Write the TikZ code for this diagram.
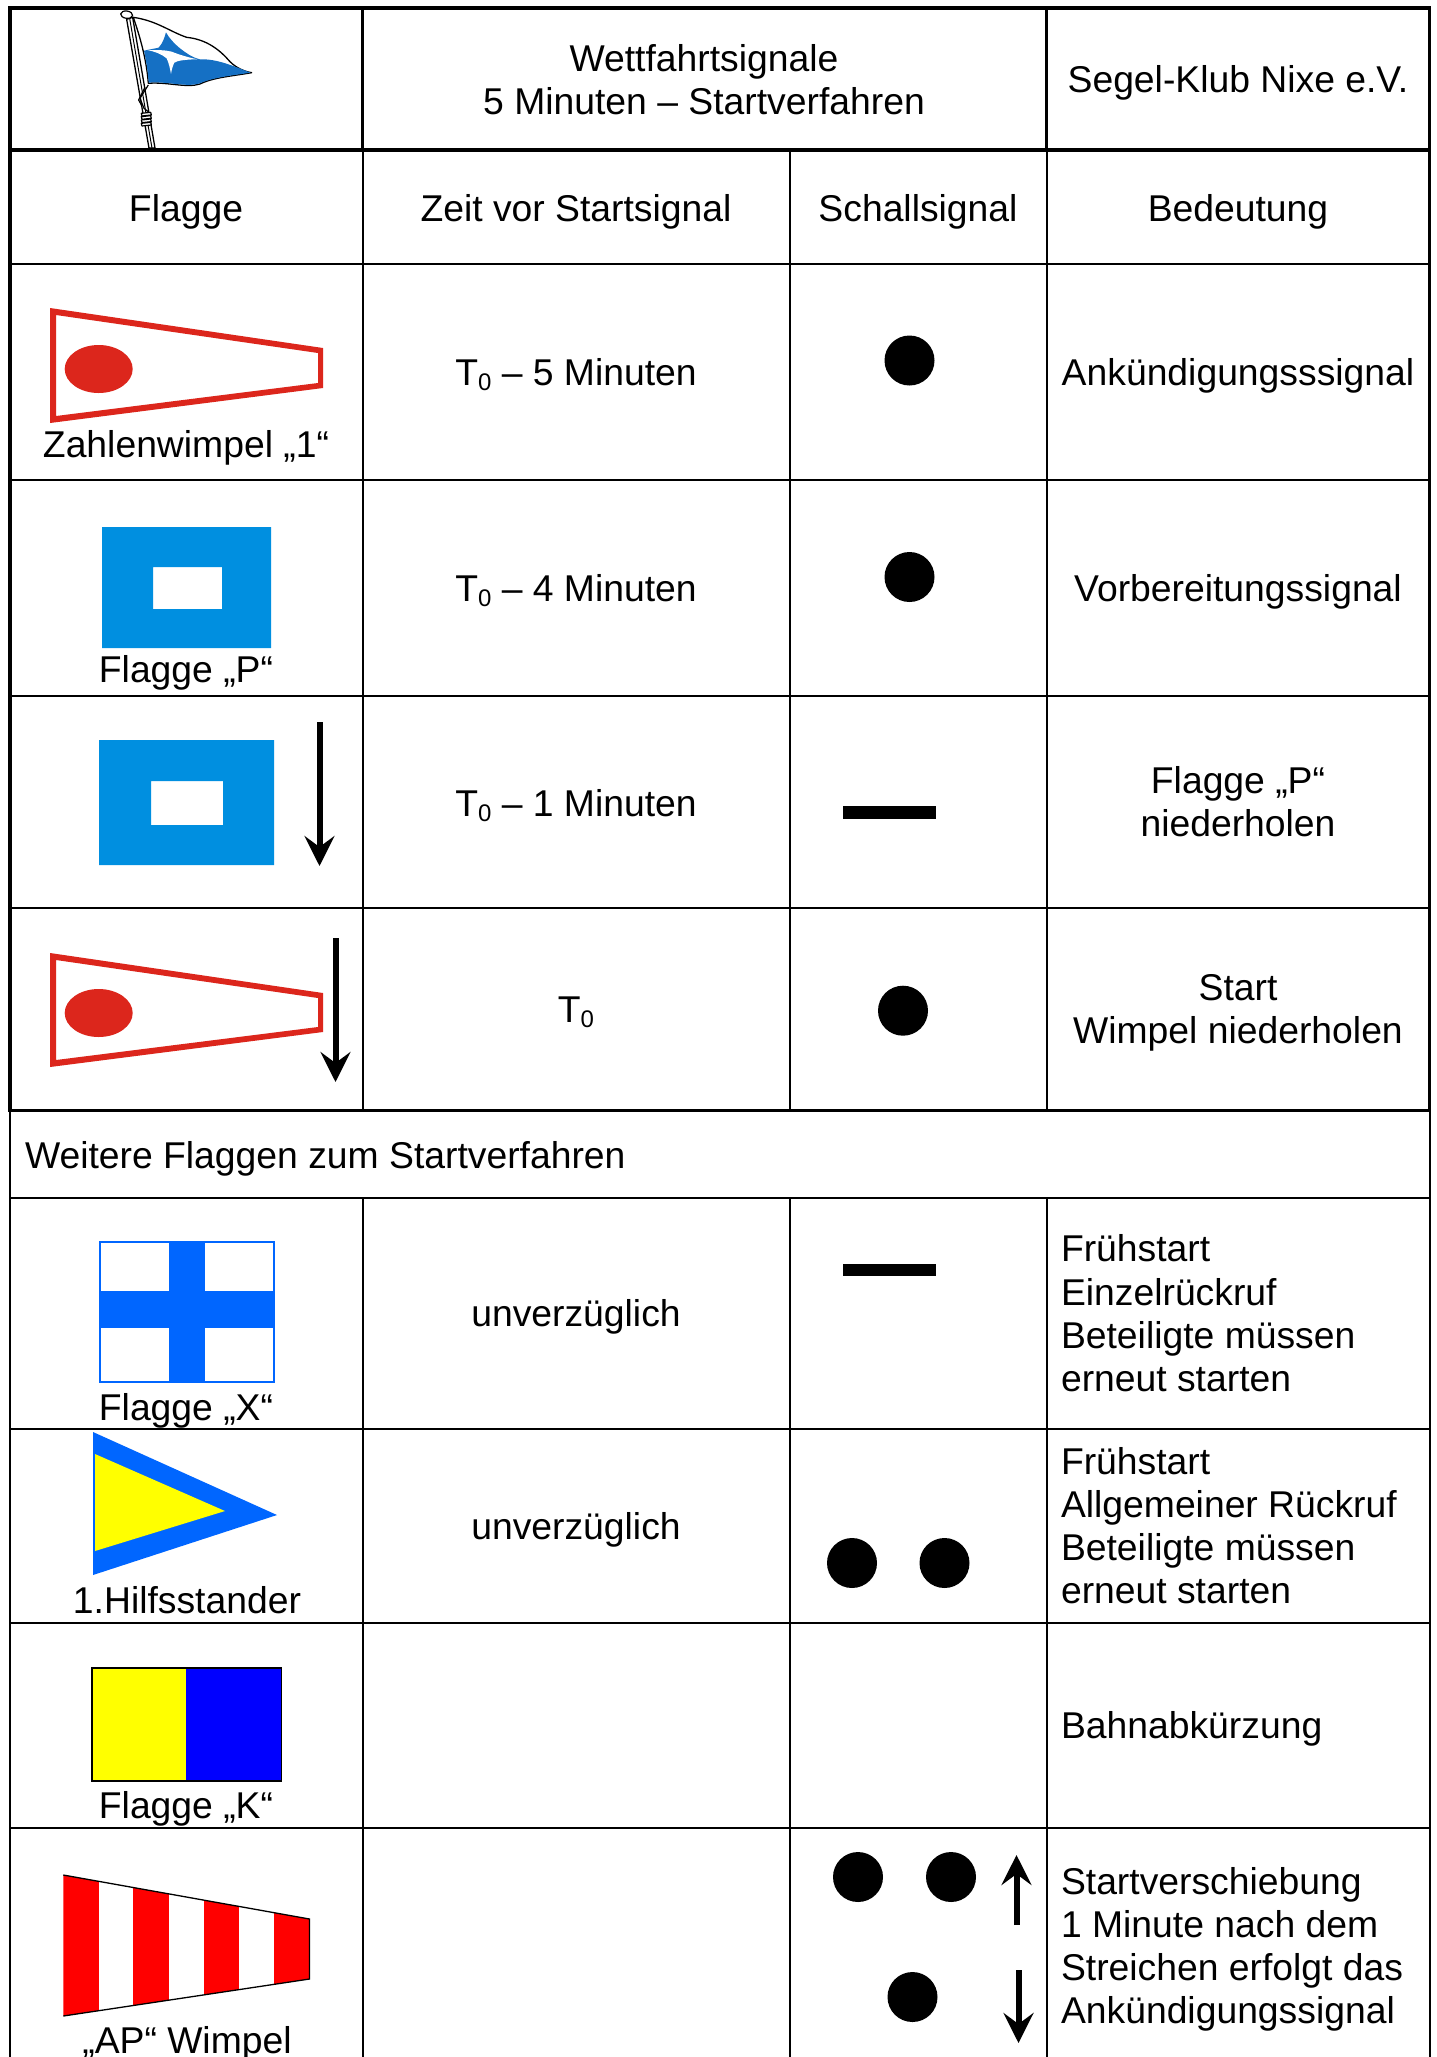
\documentclass[tikz,border=0pt]{standalone}
\usepackage{fontspec}
\setmainfont{Liberation Sans}
\usetikzlibrary{arrows.meta}
\definecolor{wred}{HTML}{DC261C}
\definecolor{pblue}{HTML}{008FE0}
\definecolor{xblue}{HTML}{0066FF}
\definecolor{logoblue}{HTML}{1570C4}
\definecolor{pureyellow}{HTML}{FFFF00}
\definecolor{purered}{HTML}{FF0000}
\definecolor{pureblue}{HTML}{0000FF}
\newcommand{\Tnull}{T\raisebox{-5pt}{\fontsize{24}{24}\selectfont 0}}
\tikzset{
  thinrule/.style={line width=2pt,black},
  thickrule/.style={line width=3.8pt,black},
  txt/.style={anchor=base,inner sep=0pt,outer sep=0pt,font=\fontsize{37.3}{43}\selectfont,text=black},
  ltxt/.style={anchor=base west,inner sep=0pt,outer sep=0pt,font=\fontsize{37.3}{43}\selectfont,text=black},
  sound/.style={circle,fill=black,minimum size=50pt,inner sep=0pt,draw=none},
  signalarrow/.style={line width=6pt,black,-{Stealth[length=30pt,width=30pt,inset=11pt]}},
  dashsig/.style={fill=black,draw=none},
}
\begin{document}
\begin{tikzpicture}[x=1pt,y=-1pt]
\useasboundingbox (0,0) rectangle (1436,2057);
\fill[white] (0,0) rectangle (1436,2057);

% ---- thin grid
\foreach \yy in {263.5,480,696,908,1198,1429,1623,1828}{\draw[thinrule] (10,\yy) -- (1429.5,\yy);}
\draw[thinrule] (362.5,150) -- (362.5,1110);
\draw[thinrule] (362.5,1198) -- (362.5,2057);
\draw[thinrule] (790,150) -- (790,1110);
\draw[thinrule] (790,1198) -- (790,2057);
\draw[thinrule] (1046.5,150) -- (1046.5,1110);
\draw[thinrule] (1046.5,1198) -- (1046.5,2057);
\draw[thinrule] (10,1110) -- (10,2057);
\draw[thinrule] (1429.5,1110) -- (1429.5,2057);
% ---- thick frame
\draw[thickrule] (10,8) rectangle (1429.5,1110.5);
\draw[thickrule] (10,150) -- (1429.5,150);
\draw[thickrule] (362.5,8) -- (362.5,150);
\draw[thickrule] (1046.5,8) -- (1046.5,150);

% ---- logo
\begin{scope}[x=0.3333pt,y=-0.3333pt,line join=round]
  \fill[white,draw=black,line width=1.3pt] (400,52)
     .. controls (470,62) and (510,95) .. (560,112)
     .. controls (620,118) and (660,150) .. (690,185)
     .. controls (710,205) and (735,215) .. (755,218)
     .. controls (700,228) and (640,232) .. (600,252)
     .. controls (560,265) and (500,245) .. (445,250)
     .. controls (440,180) and (420,110) .. (400,52) -- cycle;
  \fill[logoblue] (432,152) -- (476,143)
     .. controls (488,130) and (494,112) .. (498,97)
     .. controls (508,115) and (522,130) .. (540,145)
     .. controls (560,160) and (575,172) .. (600,178)
     .. controls (650,176) and (700,198) .. (752,218)
     .. controls (700,226) and (640,232) .. (600,250)
     .. controls (560,263) and (500,243) .. (446,248)
     .. controls (444,215) and (438,180) .. (432,152) -- cycle;
  \fill[white] (442,150)
     .. controls (475,150) and (495,150) .. (515,155)
     .. controls (540,165) and (565,172) .. (592,178)
     .. controls (560,178) and (530,182) .. (523,188)
     .. controls (518,198) and (515,210) .. (513,222)
     .. controls (510,205) and (507,190) .. (500,175)
     .. controls (485,162) and (465,155) .. (442,150) -- cycle;
  \draw[black,line width=1.3pt,fill=white] (380,58) -- (447,444) -- (465,444) -- (398,52) -- cycle;
  \draw[black,line width=1pt] (389,55) -- (456,444);
  \draw[black,line width=1.2pt,fill=white,rotate around={-8:(380,44)}] (380,44) ellipse (18 and 11);
  \draw[black,line width=1.2pt] (445,255) -- (420,295) -- (432,325) -- (445,335);
  \draw[black,line width=1.2pt] (435,262) -- (416,300) -- (426,318);
  \foreach \ky in {340,350,360,370}{\draw[black,line width=1.2pt,fill=white] (424,\ky) -- (452,{\ky-3}) -- (454,{\ky+5}) -- (426,{\ky+8}) -- cycle;}
\end{scope}

% ---- header texts
\node[txt] (title) at (704,71) {Wettfahrtsignale};
\node[txt] (title2) at (704,114) {5 Minuten – Startverfahren};
\node[txt] (club) at (1238,92) {Segel-Klub Nixe e.V.};
\node[txt] (hflag) at (186,221) {Flagge};
\node[txt] (hzeit) at (576,221) {Zeit vor Startsignal};
\node[txt] (hschall) at (918,221) {Schallsignal};
\node[txt] (hbed) at (1238,221) {Bedeutung};

% ---- row 1
\fill[wred,even odd rule] (50,308) -- (323,348) -- (323,388) -- (50,423) -- cycle
  (56,315) -- (318,353) -- (318,383) -- (56,416) -- cycle;
\fill[wred] (98.7,369) ellipse (34 and 24);
\node[txt] (r1a) at (186,457) {Zahlenwimpel „1“};
\node[txt] (r1b) at (576,385.5) {\Tnull{} – 5 Minuten};
\node[sound] (r1c) at (909.5,360.5) {};
\node[txt] (r1d) at (1238,385.5) {Ankündigungsssignal};

% ---- row 2
\fill[pblue,even odd rule] (102,527) rectangle (271,648) (153,567) rectangle (222,609);
\node[txt] (r2a) at (186,682.5) {Flagge „P“};
\node[txt] (r2b) at (576,601.5) {\Tnull{} – 4 Minuten};
\node[sound] (r2c) at (909.5,577) {};
\node[txt] (r2d) at (1238,601.5) {Vorbereitungssignal};

% ---- row 3
\fill[pblue,even odd rule] (99,740) rectangle (274,865) (151,781) rectangle (223,825);
\coordinate (a1s) at (319.5,722); \coordinate (a1e) at (319.5,866);
\draw[signalarrow] (a1s) -- (a1e);
\node[txt] (r3b) at (576,816) {\Tnull{} – 1 Minuten};
\path[dashsig] (842.7,806) rectangle (936,818.7);
\node[txt] (r3d1) at (1238,793) {Flagge „P“};
\node[txt] (r3d2) at (1238,836.5) {niederholen};

% ---- row 4
\fill[wred,even odd rule] (50,953) -- (323,993) -- (323,1032) -- (50,1067) -- cycle
  (56,960) -- (318,998) -- (318,1027) -- (56,1060) -- cycle;
\fill[wred] (98.7,1013) ellipse (34 and 24);
\coordinate (a2s) at (335.5,938); \coordinate (a2e) at (335.5,1082);
\draw[signalarrow] (a2s) -- (a2e);
\node[txt] (r4b) at (576,1022) {\Tnull};
\node[sound] (r4c) at (903,1010.7) {};
\node[txt] (r4d1) at (1238,1000.5) {Start};
\node[txt] (r4d2) at (1238,1043.5) {Wimpel niederholen};

% ---- section title
\node[ltxt] (weitere) at (25,1168) {Weitere Flaggen zum Startverfahren};

% ---- flag X
\draw[xblue,line width=2pt,fill=white] (100,1242) rectangle (274,1382);
\fill[xblue] (169,1241) rectangle (205,1383);
\fill[xblue] (99,1291) rectangle (275,1328);
\node[txt] (r5a) at (186,1420) {Flagge „X“};
\node[txt] (r5b) at (576,1326) {unverzüglich};
\path[dashsig] (842.7,1263.5) rectangle (936,1276);
\node[ltxt] (r5d1) at (1061,1261.5) {Frühstart};
\node[ltxt] (r5d2) at (1061,1305) {Einzelrückruf};
\node[ltxt] (r5d3) at (1061,1348) {Beteiligte müssen};
\node[ltxt] (r5d4) at (1061,1391) {erneut starten};

% ---- 1. Hilfsstander
\fill[xblue] (93,1432) -- (277,1515) -- (93,1575) -- cycle;
\fill[pureyellow] (95,1454) -- (225,1511) -- (95,1551) -- cycle;
\node[txt] (r6a) at (187,1613.5) {1.Hilfsstander};
\node[txt] (r6b) at (576,1539) {unverzüglich};
\node[sound] (r6c1) at (852,1563) {};
\node[sound] (r6c2) at (944.5,1563) {};
\node[ltxt] (r6d1) at (1061,1474) {Frühstart};
\node[ltxt] (r6d2) at (1061,1517) {Allgemeiner Rückruf};
\node[ltxt] (r6d3) at (1061,1560) {Beteiligte müssen};
\node[ltxt] (r6d4) at (1061,1603) {erneut starten};

% ---- flag K
\fill[pureyellow] (92,1668) rectangle (186,1781);
\fill[pureblue] (186,1668) rectangle (281.5,1781);
\draw[black,line width=1.6pt] (92,1668) rectangle (281.5,1781);
\node[txt] (r7a) at (186,1818.5) {Flagge „K“};
\node[ltxt] (r7d) at (1061,1738) {Bahnabkürzung};

% ---- AP pennant
\begin{scope}
  \clip (63.3,1875) -- (309.5,1919) -- (309.5,1979) -- (63.3,2016) -- cycle;
  \fill[purered] (63.3,1870) rectangle (98.7,2020);
  \fill[purered] (133,1870) rectangle (169,2020);
  \fill[purered] (203.7,1870) rectangle (239,2020);
  \fill[purered] (273.7,1870) rectangle (309.5,2020);
\end{scope}
\draw[black,line width=1.3pt] (63.3,1875) -- (309.5,1919) -- (309.5,1979) -- (63.3,2016);
\node[txt] (r8a) at (187,2053) {„AP“ Wimpel};
\node[sound] (r8c1) at (858,1877) {};
\node[sound] (r8c2) at (951,1877) {};
\node[sound] (r8c3) at (912.5,1997) {};
\coordinate (a3s) at (1016.5,1925); \coordinate (a3e) at (1016.5,1855);
\draw[signalarrow] (a3s) -- (a3e);
\coordinate (a4s) at (1018.5,1970); \coordinate (a4e) at (1018.5,2043);
\draw[signalarrow] (a4s) -- (a4e);
\node[ltxt] (r8d1) at (1061,1894.5) {Startverschiebung};
\node[ltxt] (r8d2) at (1061,1937) {1 Minute nach dem};
\node[ltxt] (r8d3) at (1061,1980.5) {Streichen erfolgt das};
\node[ltxt] (r8d4) at (1061,2023.5) {Ankündigungssignal};
\end{tikzpicture}
\end{document}
